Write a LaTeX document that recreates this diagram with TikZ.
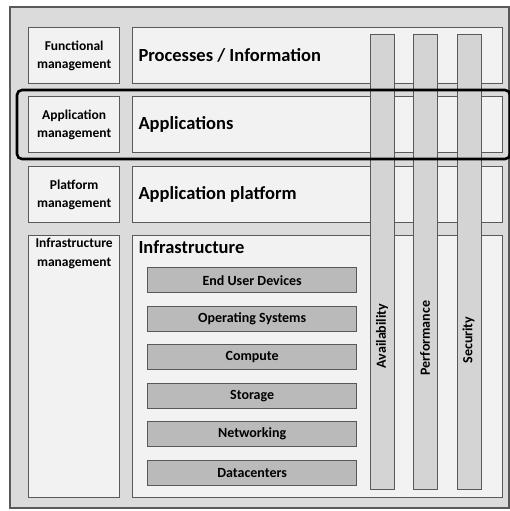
\documentclass[tikz,border=0pt]{standalone}
\usepackage{fontspec}
\setmainfont{Carlito}

\tikzset{
  frame/.style={draw=black!65, line width=1.3pt},
  mgmtbox/.style={frame, fill=black!5, anchor=north west, minimum width=91pt, minimum height=56pt, inner sep=1pt, align=center, font=\bfseries\fontsize{13.5}{18}\selectfont},
  layerbox/.style={frame, fill=black!5, anchor=north west, minimum width=370pt, minimum height=56pt},
  techbox/.style={frame, fill=black!27, anchor=north west, minimum width=209pt, minimum height=25pt, inner sep=0pt, font=\bfseries\fontsize{14}{16}\selectfont},
  qualbar/.style={frame, fill=black!17, anchor=north west, minimum width=24pt, minimum height=455pt, inner sep=0pt},
  title/.style={anchor=west, font=\bfseries\fontsize{18.5}{22}\selectfont},
  bartext/.style={rotate=90, font=\bfseries\fontsize{14}{16}\selectfont},
}

\begin{document}
\begin{tikzpicture}[x=1pt,y=-1pt]
        \useasboundingbox (0,0) rectangle (509,511);
        \draw [frame, fill=black!14] (10,7) rectangle (509,508); % Outer frame.

        % Management column.
        \node [mgmtbox] (funcm) at (28,27) {Functional\\management};
        \node [mgmtbox] (appm) at (28,96) {Application\\management};
        \node [mgmtbox] (platm) at (28,166) {Platform\\management};
        \node [mgmtbox, minimum height=262pt] (infram) at (28,235) {};
        \node [anchor=north, align=center, inner sep=0pt, font=\bfseries\fontsize{13.5}{19}\selectfont] (inframtext) at ([yshift=-3pt]infram.north) {Infrastructure\\management};

        % Layers.
        \node [layerbox] (procs) at (132,27) {};
        \node [layerbox] (apps) at (132,96) {};
        \node [layerbox] (plat) at (132,166) {};
        \node [layerbox, minimum height=262pt] (infra) at (132,235) {};
        \node [title] (procstext) at (135,55) {Processes / Information};
        \node [title] (appstext) at (135,124.5) {Applications};
        \node [title] (plattext) at (135,194) {Application platform};
        \node [title] (infratext) at (135,247) {Infrastructure};

        % Infrastructure components.
        \node [techbox] (eud) at (147,267) {End User Devices};
        \node [techbox] (os) at (147,305.5) {Operating Systems};
        \node [techbox] (comp) at (147,344) {Compute};
        \node [techbox] (stor) at (147,382.5) {Storage};
        \node [techbox] (netw) at (147,421) {Networking};
        \node [techbox] (dc) at (147,459.5) {Datacenters};

        % Quality bars.
        \node [qualbar] (avail) at (370,34) {};
        \node [qualbar] (perf) at (413,34) {};
        \node [qualbar] (secu) at (456.5,34) {};
        \node [bartext] (availtext) at (382,336) {Availability};
        \node [bartext] (perftext) at (425,338) {Performance};
        \node [bartext] (secutext) at (468.5,340) {Security};

        % Highlight of the application row.
        \draw [black, line width=2.6pt, rounded corners=5pt] (17,90) rectangle (510,159);
      \end{tikzpicture}
\end{document}
